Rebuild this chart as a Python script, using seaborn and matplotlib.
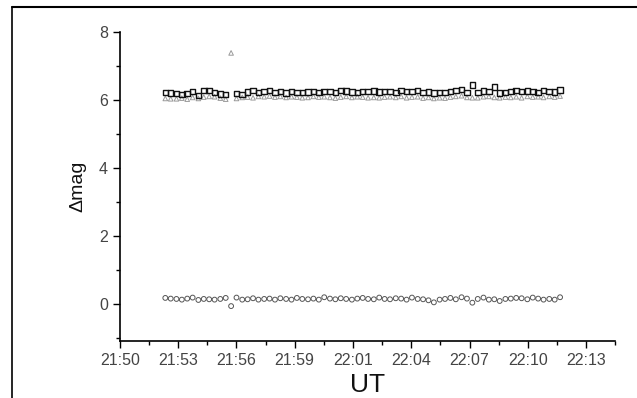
import numpy as np
import pandas as pd
import matplotlib
matplotlib.use("Agg")
import matplotlib.pyplot as plt
from matplotlib.lines import Line2D
from matplotlib.ticker import AutoMinorLocator
import seaborn as sns

# observation times (UT)
ut = [
    "21:52:39", "21:52:55", "21:53:12", "21:53:28", "21:53:44", "21:54:00",
    "21:54:17", "21:54:33", "21:54:49", "21:55:05", "21:55:22", "21:55:38",
    "21:55:54", "21:56:10", "21:56:27", "21:56:43", "21:56:59", "21:57:15",
    "21:57:32", "21:57:48", "21:58:04", "21:58:20", "21:58:37", "21:58:53",
    "21:59:09", "21:59:25", "21:59:42", "21:59:58", "22:00:14", "22:00:30",
    "22:00:47", "22:01:03", "22:01:19", "22:01:35", "22:01:52", "22:02:08",
    "22:02:24", "22:02:40", "22:02:57", "22:03:13", "22:03:29", "22:03:45",
    "22:04:02", "22:04:18", "22:04:34", "22:04:50", "22:05:07", "22:05:23",
    "22:05:39", "22:05:55", "22:06:12", "22:06:28", "22:06:44", "22:07:00",
    "22:07:17", "22:07:33", "22:07:49", "22:08:05", "22:08:22", "22:08:38",
    "22:08:54", "22:09:10", "22:09:27", "22:09:43", "22:09:59", "22:10:15",
    "22:10:32", "22:10:48", "22:11:04", "22:11:20", "22:11:37", "22:11:53",
    "22:12:09",
]

# squares (index 12 missing)
dmag_sq = [
    6.22, 6.20, 6.18, 6.15, 6.19, 6.24, 6.13, 6.27, 6.27, 6.21, 6.17, 6.15,
    np.nan,
    6.19, 6.16, 6.23, 6.27, 6.22, 6.25, 6.28, 6.22, 6.25, 6.20, 6.24, 6.22,
    6.21, 6.23, 6.25, 6.22, 6.24, 6.25, 6.22, 6.28, 6.26, 6.23,
    6.22, 6.25, 6.24, 6.26, 6.23, 6.24, 6.25, 6.22, 6.27, 6.24, 6.25, 6.28,
    6.21, 6.23, 6.20, 6.22, 6.21, 6.24, 6.27, 6.30, 6.22, 6.44, 6.22, 6.26,
    6.24, 6.38, 6.20, 6.22, 6.24, 6.27, 6.25, 6.26, 6.24, 6.22, 6.28, 6.25,
    6.23, 6.29,
]

# triangles
dmag_tri = [
    6.04, 6.03, 6.03, 6.05, 6.02, 6.07, 6.04, 6.08, 6.10, 6.09, 6.05, 6.02,
    7.38,
    6.04, 6.07, 6.08, 6.06, 6.10, 6.09, 6.11, 6.08, 6.10, 6.07, 6.09, 6.08,
    6.06, 6.07, 6.10, 6.08, 6.09, 6.07, 6.05, 6.08, 6.10, 6.07,
    6.09, 6.08, 6.06, 6.07, 6.06, 6.08, 6.09, 6.07, 6.10, 6.06, 6.08, 6.09,
    6.05, 6.07, 6.04, 6.06, 6.05, 6.08, 6.10, 6.12, 6.07, 6.06, 6.06, 6.09,
    6.10, 6.07, 6.06, 6.08, 6.07, 6.09, 6.06, 6.10, 6.08, 6.09, 6.07, 6.10,
    6.08, 6.11,
]

# circles
dmag_circ = [
    0.17, 0.15, 0.14, 0.12, 0.15, 0.18, 0.11, 0.14, 0.13, 0.12, 0.14, 0.17,
    -0.07,
    0.18, 0.12, 0.13, 0.16, 0.12, 0.14, 0.15, 0.12, 0.16, 0.14, 0.12, 0.17,
    0.14, 0.13, 0.15, 0.12, 0.19, 0.15, 0.13, 0.16, 0.14, 0.12,
    0.15, 0.17, 0.14, 0.13, 0.18, 0.14, 0.13, 0.16, 0.15, 0.12, 0.18, 0.14,
    0.13, 0.10, 0.04, 0.12, 0.14, 0.17, 0.13, 0.19, 0.15, 0.03, 0.14, 0.18,
    0.12, 0.13, 0.08, 0.14, 0.15, 0.17, 0.16, 0.13, 0.18, 0.15, 0.12, 0.14,
    0.12, 0.19,
]

# x axis is in fraction of day, labels are the truncated UT
x_ticks = [0.910, 0.912, 0.914, 0.916, 0.918, 0.920, 0.922, 0.924, 0.926]
x_labels = ["21:50", "21:53", "21:56", "21:59", "22:01", "22:04", "22:07", "22:10", "22:13"]
y_ticks = [0, 2, 4, 6, 8]

df = pd.DataFrame({
    "ut": ut,
    "sq": dmag_sq,
    "tri": dmag_tri,
    "circ": dmag_circ,
})
df["day"] = pd.to_timedelta(df["ut"]) / pd.Timedelta(days=1)

sns.set_style("ticks")
plt.rcParams["font.family"] = ["Liberation Sans", "DejaVu Sans"]

fig = plt.figure(figsize=(6.37, 3.98), dpi=100)
ax = fig.add_axes([0.188, 0.143, 0.778, 0.777])

sns.scatterplot(data=df, x="day", y="tri", marker="^", s=11,
                facecolor="none", edgecolor="#9a9a9a", linewidth=0.7, ax=ax)
sns.scatterplot(data=df, x="day", y="sq", marker="s", s=16,
                facecolor="none", edgecolor="#111111", linewidth=1.0, ax=ax)
sns.scatterplot(data=df, x="day", y="circ", marker="o", s=12,
                facecolor="none", edgecolor="#555555", linewidth=0.7, ax=ax)

ax.set_xlim(0.910, 0.927)
ax.set_ylim(-1.1, 8)
ax.set_xticks(x_ticks)
ax.set_xticklabels(x_labels)
ax.set_yticks(y_ticks)
ax.xaxis.set_minor_locator(AutoMinorLocator(2))
ax.yaxis.set_minor_locator(AutoMinorLocator(2))
ax.tick_params(which="major", direction="out", length=5, width=1,
               labelsize=11.5, labelcolor="#444444", color="black")
ax.tick_params(which="minor", direction="out", length=3, width=1, color="black")

ax.set_xlabel("UT", fontsize=19, color="#111111", labelpad=4)
ax.set_ylabel("Δmag", fontsize=14, color="#111111", labelpad=9)

sns.despine(ax=ax)
for side in ["left", "bottom"]:
    ax.spines[side].set_linewidth(1.2)
    ax.spines[side].set_color("black")

# page frame of the scanned figure
fig.add_artist(Line2D([12 / 637, 1], [1 - 7 / 398, 1 - 7 / 398],
                      transform=fig.transFigure, color="black", lw=1.5))
fig.add_artist(Line2D([12 / 637, 12 / 637], [0, 1 - 7 / 398],
                      transform=fig.transFigure, color="black", lw=1.2))

fig.savefig("out.png", dpi=100, facecolor="white")
